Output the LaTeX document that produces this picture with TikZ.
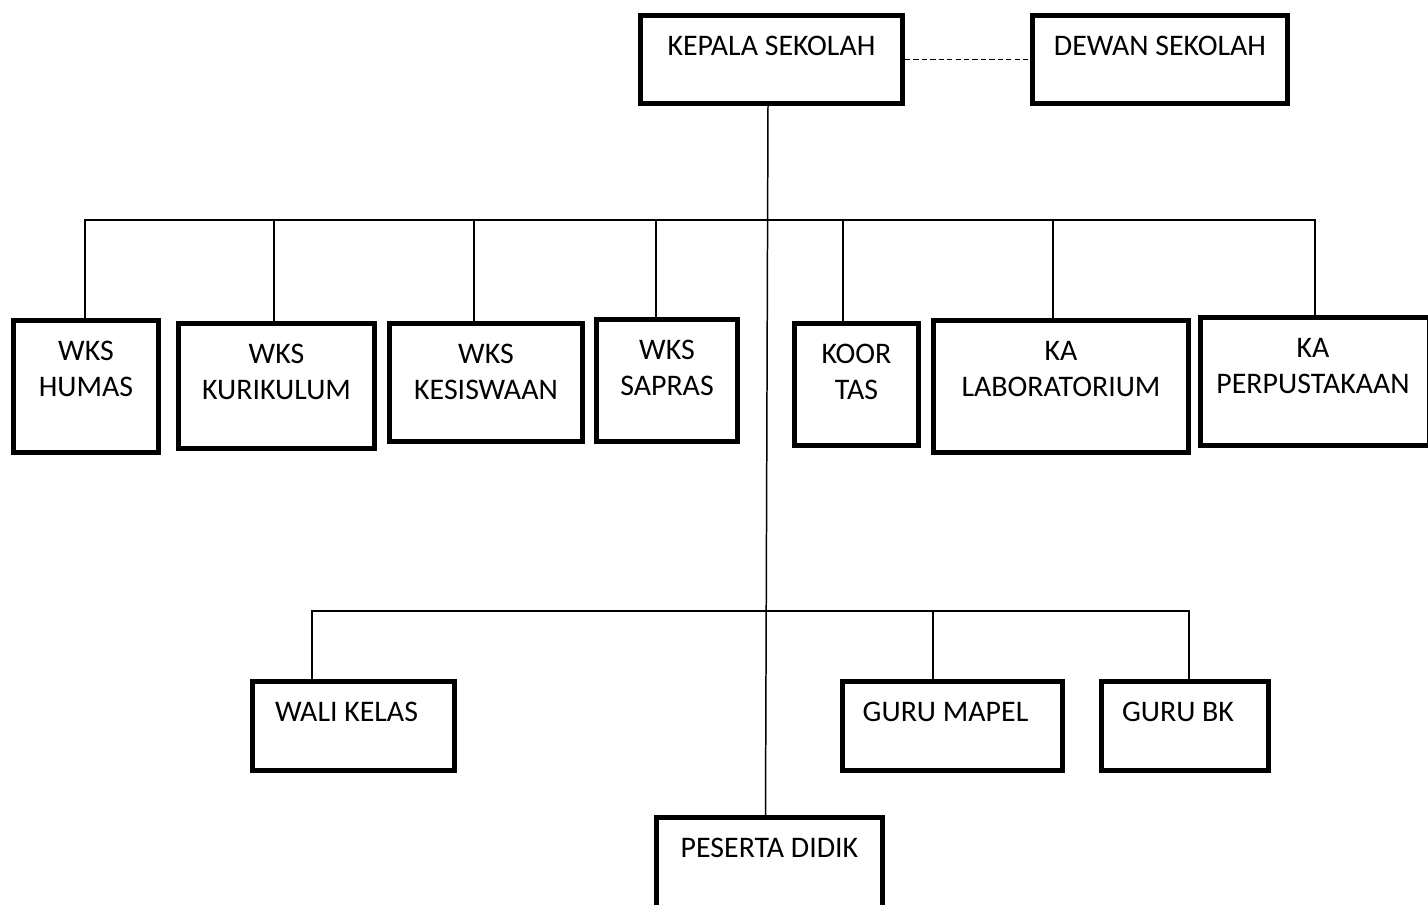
\documentclass[tikz,border=0pt]{standalone}
\usepackage{fontspec}
\setmainfont{Carlito}
\tikzset{
  kotak/.style={draw, line width=2.85pt, inner sep=0pt},
  isi/.style={anchor=north, align=center, inner sep=0pt, outer sep=0pt, yshift=-0.47cm, font=\fontsize{17}{20.5}\selectfont},
  garis/.style={line width=0.85pt},
}

\begin{document}
\begin{tikzpicture}[x=0.02cm, y=-0.02cm]
  \useasboundingbox (0,0) rectangle (1428,904);

  % pimpinan
  \node[kotak, minimum width=5.24cm, minimum height=1.76cm, label={[isi]north:KEPALA SEKOLAH}] (kepala) at (771.5,59.5) {};
  \node[kotak, minimum width=5.1cm, minimum height=1.76cm, label={[isi]north:DEWAN SEKOLAH}] (dewan) at (1160,59.5) {};

  % wakil dan koordinator
  \node[kotak, minimum width=2.9cm, minimum height=2.64cm, label={[isi]north:WKS\\HUMAS}] (humas) at (86,386.5) {};
  \node[kotak, minimum width=3.92cm, minimum height=2.5cm, label={[isi]north:WKS\\KURIKULUM}] (kurikulum) at (276.5,386) {};
  \node[kotak, minimum width=3.86cm, minimum height=2.36cm, label={[isi]north:WKS\\KESISWAAN}] (kesiswaan) at (486,382.5) {};
  \node[kotak, minimum width=2.82cm, minimum height=2.44cm, label={[isi]north:WKS\\SAPRAS}] (sapras) at (667,380.5) {};
  \node[kotak, minimum width=2.48cm, minimum height=2.44cm, label={[isi]north:KOOR\\TAS}] (koor) at (856.5,384.5) {};
  \node[kotak, minimum width=5.1cm, minimum height=2.64cm, label={[isi]north:KA\\LABORATORIUM}] (lab) at (1061,386.5) {};
  \node[kotak, minimum width=4.58cm, minimum height=2.56cm, label={[isi, xshift=-0.04cm]north:KA\\PERPUSTAKAAN}] (perpus) at (1315,381.5) {};

  % guru
  \node[kotak, minimum width=4.04cm, minimum height=1.78cm, label={[isi, xshift=-0.14cm]north:WALI KELAS}] (wali) at (353.5,726) {};
  \node[kotak, minimum width=4.4cm, minimum height=1.78cm, label={[isi, xshift=-0.14cm]north:GURU MAPEL}] (mapel) at (952.5,726) {};
  \node[kotak, minimum width=3.34cm, minimum height=1.78cm, label={[isi, xshift=-0.14cm]north:GURU BK}] (bk) at (1185,726) {};

  % siswa
  \node[kotak, minimum width=4.52cm, minimum height=1.8cm, label={[isi]north:PESERTA DIDIK}] (peserta) at (769.5,862.5) {};

  % garis komando
  \coordinate (bus1) at (768,220);
  \coordinate (bus2) at (767,611);
  \draw[garis] ([xshift=-0.07cm]kepala.south) -- ([xshift=-0.08cm]peserta.north);
  \draw[garis, line width=1.1pt, dash pattern=on 3pt off 1.8pt] (kepala) -- (dewan);
  \foreach \n/\dx in {humas/-1, kurikulum/-2.5, kesiswaan/-12, sapras/-11, koor/-13.5, lab/-8, perpus/0}
    \draw[garis] (bus1) -| ([xshift=\dx*0.02cm]\n.north);
  \foreach \n/\dx in {wali/-41.5, mapel/-19.5, bk/4}
    \draw[garis] (bus2) -| ([xshift=\dx*0.02cm]\n.north);

\end{tikzpicture}
\end{document}
